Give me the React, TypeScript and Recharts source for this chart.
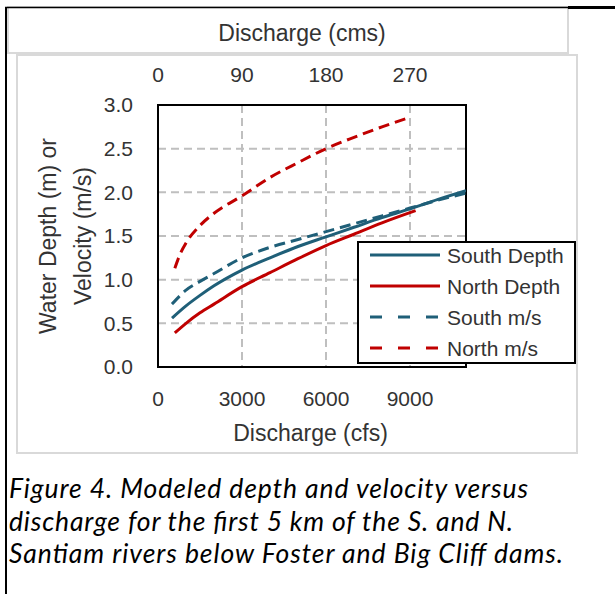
import React from 'react';
import { LineChart, Line, XAxis, YAxis, CartesianGrid, Legend, Label, ReferenceArea } from 'recharts';

// ---- data ----
const cfsTicks = [0, 3000, 6000, 9000];
const cmsTickLabels = ['0', '90', '180', '270'];
const yTicks = [0, 0.5, 1, 1.5, 2, 2.5, 3];

const southDepthCfs = [500, 1000, 1500, 2000, 3000, 4000, 5000, 6000, 7000, 8000, 9000, 10000, 11000];
const southDepthVals = [0.56, 0.7, 0.82, 0.93, 1.11, 1.25, 1.38, 1.49, 1.6, 1.71, 1.81, 1.92, 2.02];

const northDepthCfs = [600, 1000, 1500, 2000, 3000, 4000, 5000, 6000, 7000, 8000, 9200];
const northDepthVals = [0.39, 0.5, 0.62, 0.72, 0.92, 1.08, 1.24, 1.39, 1.52, 1.65, 1.79];

const southVelCfs = [500, 1000, 1500, 2000, 3000, 4000, 5000, 6000, 7000, 8000, 9000, 10000, 11000];
const southVelVals = [0.72, 0.88, 0.98, 1.07, 1.25, 1.37, 1.46, 1.55, 1.64, 1.73, 1.82, 1.91, 1.99];

const northVelCfs = [600, 800, 1000, 1500, 2000, 3000, 4000, 5000, 6000, 7000, 8000, 9000];
const northVelVals = [1.13, 1.3, 1.42, 1.62, 1.76, 1.96, 2.17, 2.34, 2.5, 2.63, 2.75, 2.86];

const seriesNames = ['South Depth', 'North Depth', 'South m/s', 'North m/s'];
const topAxisTitle = 'Discharge (cms)';
const bottomAxisTitle = 'Discharge (cfs)';
const yTitleLines = ['Water Depth (m) or', 'Velocity (m/s)'];
const captionLines = [
  'Figure 4. Modeled depth and velocity versus',
  'discharge for the first 5 km of the S. and N.',
  'Santiam rivers below Foster and Big Cliff dams.',
];
const captionWidths = [519, 504, 554];

// ---- styles ----
const TEAL = '#1F5F78';
const RED = '#C00000';
const FONT = '"Liberation Sans", Arial, sans-serif';
const TEXT = '#333333';

const zip = (xs: number[], ys: number[]) => xs.map((x, i) => ({ cfs: x, value: ys[i] }));

const series = [
  { name: seriesNames[0], color: TEAL, dashed: false, data: zip(southDepthCfs, southDepthVals) },
  { name: seriesNames[1], color: RED, dashed: false, data: zip(northDepthCfs, northDepthVals) },
  { name: seriesNames[2], color: TEAL, dashed: true, data: zip(southVelCfs, southVelVals) },
  { name: seriesNames[3], color: RED, dashed: true, data: zip(northVelCfs, northVelVals) },
];

const LegendBox = () => (
  <svg width={219} height={123} style={{ display: 'block' }}>
    <rect x={1} y={1} width={217} height={121} fill="#fff" stroke="#000" strokeWidth={2} />
    {series.map((s, i) => {
      const cy = 14 + i * 31;
      return (
        <g key={s.name}>
          <line x1={13} x2={83} y1={cy} y2={cy} stroke={s.color} strokeWidth={3}
            strokeDasharray={s.dashed ? '12 16' : undefined} />
          <text x={90} y={cy} dominantBaseline="central" fontFamily={FONT} fontSize={21} fill={TEXT}>{s.name}</text>
        </g>
      );
    })}
  </svg>
);

const YTitle = (props: any) => {
  const vb = props.viewBox || { x: 98, y: 105, width: 60, height: 262 };
  const cy = vb.y + vb.height / 2;
  const xs = [vb.x - 50, vb.x - 15];
  return (
    <g>
      {yTitleLines.map((t, i) => (
        <text key={t} x={xs[i]} y={cy} transform={`rotate(-90 ${xs[i]} ${cy})`} textAnchor="middle"
          dominantBaseline="central" fontFamily={FONT} fontSize={23} fill={TEXT}>{t}</text>
      ))}
    </g>
  );
};

export default function App() {
  const tickStyle = { fontFamily: FONT, fontSize: 21, fill: TEXT };
  return (
    <div style={{ position: 'absolute', left: 0, top: 0, width: 615, height: 594, background: '#fff', overflow: 'hidden' }}>
      <svg width={615} height={594} style={{ position: 'absolute', left: 0, top: 0 }}>
        <rect x={8} y={7} width={560} height={46} fill="#fff" stroke="#D9D9D9" strokeWidth={2} />
        <rect x={17} y={55} width={560} height={398} fill="#fff" stroke="#D9D9D9" strokeWidth={2} />
        <line x1={5} y1={7.5} x2={568} y2={7.5} stroke="#000" strokeWidth={1.5} />
        <line x1={568} y1={7.5} x2={615} y2={7.5} stroke="#000" strokeWidth={3} />
        <line x1={6} y1={7} x2={6} y2={594} stroke="#000" strokeWidth={2} />
        {captionLines.map((t, i) => (
          <text key={i} x={9} y={498 + i * 32.5} fontFamily='Lato, "Liberation Sans", sans-serif' fontStyle="italic"
            fontSize={26.5} fill="#000" textLength={captionWidths[i]} lengthAdjust="spacing">{t}</text>
        ))}
      </svg>
      <LineChart width={615} height={594} style={{ position: 'absolute', left: 0, top: 0 }}
        margin={{ top: 75, right: 149, bottom: 197, left: 98 }}>
        <CartesianGrid xAxisId="bottom" stroke="#BFBFBF" strokeWidth={2} strokeDasharray="8 5" />
        <XAxis xAxisId="bottom" orientation="bottom" dataKey="cfs" type="number" domain={[0, 11000]}
          ticks={cfsTicks} height={30} axisLine={false} tickLine={false} tickSize={0} tickMargin={24}
          tick={tickStyle} allowDataOverflow>
          <Label value={bottomAxisTitle} position="bottom" offset={28} dx={-1.5}
            style={{ fontFamily: FONT, fontSize: 23, fill: TEXT }} />
        </XAxis>
        <XAxis xAxisId="top" orientation="top" dataKey="cfs" type="number" domain={[0, 11000]}
          ticks={cfsTicks} height={30} axisLine={false} tickLine={false} tickSize={0} tickMargin={23}
          tick={tickStyle} allowDataOverflow
          tickFormatter={(v: number) => cmsTickLabels[cfsTicks.indexOf(v)] ?? ''}>
          <Label value={topAxisTitle} position="top" offset={34} dx={-10}
            style={{ fontFamily: FONT, fontSize: 23, fill: TEXT }} />
        </XAxis>
        <YAxis type="number" domain={[0, 3]} ticks={yTicks} width={60} axisLine={false} tickLine={false}
          tickSize={0} tickMargin={25} tick={tickStyle} tickFormatter={(v: number) => v.toFixed(1)}>
          <Label content={<YTitle />} />
        </YAxis>
        <ReferenceArea xAxisId="bottom" x1={0} x2={11000} y1={0} y2={3} fill="none" fillOpacity={0}
          stroke="#000" strokeWidth={2} ifOverflow="visible" />
        {series.map((s) => (
          <Line key={s.name} xAxisId="bottom" data={s.data} dataKey="value" name={s.name} type="monotone"
            stroke={s.color} strokeWidth={3} strokeDasharray={s.dashed ? '11 6' : undefined}
            dot={false} activeDot={false} isAnimationActive={false} />
        ))}
        <Legend layout="vertical" align="center" verticalAlign="middle" content={<LegendBox />}
          wrapperStyle={{ position: 'absolute', left: 357, top: 241, width: 219, height: 123 }} />
      </LineChart>
    </div>
  );
}
